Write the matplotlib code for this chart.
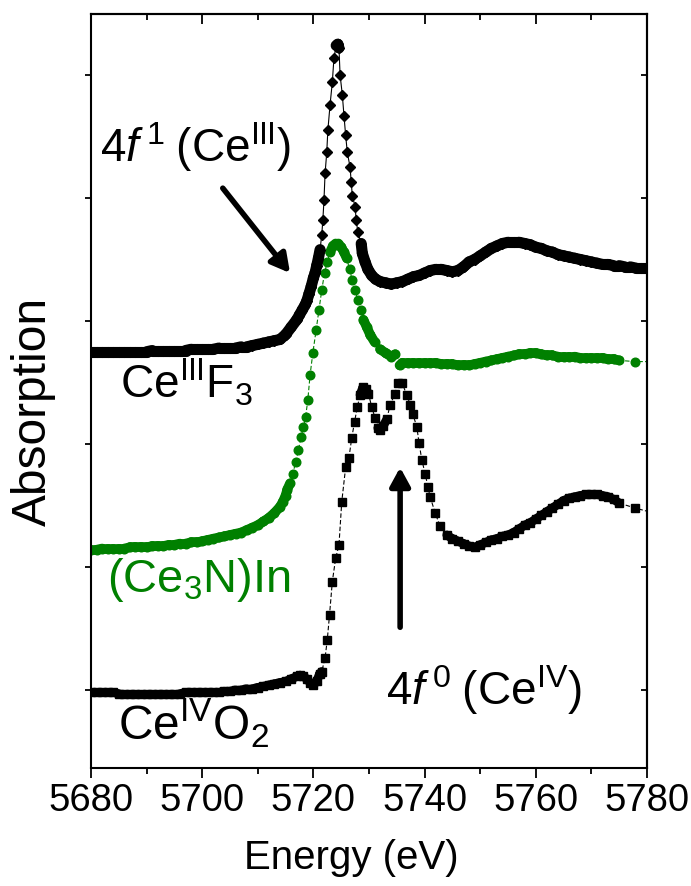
import matplotlib
matplotlib.use("Agg")
import numpy as np
import matplotlib.pyplot as plt
from matplotlib.collections import LineCollection
from matplotlib.ticker import MultipleLocator

plt.rcParams['font.family'] = ['Liberation Sans', 'DejaVu Sans']
plt.rcParams['mathtext.fontset'] = 'custom'
plt.rcParams['mathtext.rm'] = 'Liberation Sans'
plt.rcParams['mathtext.it'] = 'Liberation Sans:italic'
plt.rcParams['mathtext.bf'] = 'Liberation Sans:bold'

# ---- Ce L3-edge XANES spectra (offset vertically) ----
ecef3 = [5680, 5681, 5682, 5683, 5684, 5685, 5686, 5687, 5688, 5689,
         5690, 5691, 5692, 5693, 5694, 5695, 5696, 5697, 5698, 5699,
         5700, 5701, 5702, 5703, 5704, 5705, 5706, 5707, 5708, 5709,
         5710, 5711, 5712, 5713, 5714, 5715, 5716, 5717, 5717.5, 5718,
         5718.5, 5718.8, 5719.2, 5719.6, 5720.0, 5720.3, 5720.6, 5720.9, 5721.2, 5721.5,
         5721.7, 5721.9, 5722.1, 5722.4, 5722.6, 5723.0, 5723.4, 5723.7, 5724.1, 5724.4,
         5724.6, 5724.8, 5725.2, 5725.5, 5725.8, 5726.1, 5726.6, 5726.8, 5727.0, 5727.5,
         5727.7, 5728.0, 5728.6, 5728.8, 5729.3, 5729.8, 5730.5, 5731.2, 5732, 5733,
         5734, 5735, 5736, 5737, 5738, 5739, 5740, 5741, 5742, 5743,
         5744, 5745, 5746, 5747, 5748, 5749, 5750, 5751, 5752, 5753,
         5754, 5755, 5756, 5757, 5758, 5759, 5760, 5761, 5762, 5763,
         5764, 5765, 5766, 5767, 5768, 5769, 5770, 5771, 5772, 5773,
         5774, 5775, 5776, 5777, 5778, 5779, 5780]
mcef3 = [2.75, 2.75, 2.75, 2.75, 2.75, 2.75, 2.75, 2.75, 2.75, 2.75,
         2.75, 2.76, 2.76, 2.76, 2.76, 2.76, 2.76, 2.76, 2.77, 2.77,
         2.77, 2.77, 2.77, 2.78, 2.78, 2.78, 2.78, 2.79, 2.79, 2.80,
         2.81, 2.82, 2.83, 2.84, 2.85, 2.89, 2.95, 3.01, 3.05, 3.09,
         3.13, 3.16, 3.22, 3.28, 3.35, 3.39, 3.45, 3.51, 3.58, 3.70,
         3.82, 3.98, 4.20, 4.37, 4.55, 4.76, 4.94, 5.14, 5.24, 5.25,
         5.22, 5.00, 4.84, 4.67, 4.51, 4.37, 4.25, 4.13, 4.02, 3.93,
         3.82, 3.72, 3.63, 3.55, 3.48, 3.42, 3.37, 3.34, 3.32, 3.31,
         3.30, 3.31, 3.32, 3.34, 3.36, 3.37, 3.39, 3.41, 3.42, 3.42,
         3.41, 3.40, 3.41, 3.44, 3.48, 3.50, 3.53, 3.56, 3.59, 3.61,
         3.63, 3.64, 3.64, 3.64, 3.63, 3.62, 3.60, 3.59, 3.57, 3.56,
         3.54, 3.53, 3.52, 3.51, 3.50, 3.49, 3.48, 3.47, 3.46, 3.46,
         3.45, 3.45, 3.44, 3.44, 3.43, 3.43, 3.43]

ece3nin = [5680, 5681, 5682, 5683, 5684, 5685, 5686, 5687, 5688, 5689,
           5690, 5691, 5692, 5693, 5694, 5695, 5696, 5697, 5698, 5699,
           5700, 5701, 5702, 5703, 5704, 5705, 5706, 5707, 5708, 5709,
           5710, 5711, 5712, 5713, 5714, 5714.5, 5715.0, 5715.3, 5715.8, 5716.3,
           5716.8, 5717.3, 5717.8, 5718.2, 5718.6, 5719.0, 5719.4, 5719.9, 5720.5, 5721.0,
           5721.5, 5722.0, 5722.5, 5723.0, 5723.5, 5724.0, 5724.5, 5725.0, 5725.5, 5726.0,
           5726.5, 5727.0, 5727.5, 5728.0, 5728.5, 5729.0, 5729.6, 5730.2, 5731, 5732,
           5733, 5734, 5734.7, 5735.5, 5736, 5737, 5738, 5739, 5740, 5741,
           5742, 5743, 5744, 5745, 5746, 5747, 5748, 5749, 5750, 5751,
           5752, 5753, 5754, 5755, 5756, 5757, 5758, 5759, 5760, 5761,
           5762, 5763, 5764, 5765, 5766, 5767, 5768, 5769, 5770, 5771,
           5772, 5773, 5774, 5775, 5777.8, 5782]
mce3nin = [1.14, 1.14, 1.15, 1.15, 1.15, 1.15, 1.15, 1.16, 1.16, 1.16,
           1.16, 1.17, 1.17, 1.17, 1.18, 1.18, 1.19, 1.19, 1.20, 1.20,
           1.21, 1.22, 1.23, 1.24, 1.25, 1.26, 1.27, 1.28, 1.30, 1.32,
           1.34, 1.37, 1.40, 1.44, 1.49, 1.53, 1.58, 1.63, 1.68, 1.76,
           1.85, 1.95, 2.06, 2.14, 2.22, 2.36, 2.56, 2.74, 2.93, 3.09,
           3.25, 3.39, 3.48, 3.56, 3.61, 3.63, 3.63, 3.60, 3.56, 3.51,
           3.42, 3.33, 3.25, 3.17, 3.09, 3.01, 2.95, 2.89, 2.83, 2.77,
           2.74, 2.71, 2.73, 2.64, 2.66, 2.66, 2.66, 2.66, 2.66, 2.66,
           2.66, 2.65, 2.65, 2.65, 2.64, 2.64, 2.64, 2.65, 2.66, 2.67,
           2.68, 2.69, 2.70, 2.71, 2.72, 2.73, 2.73, 2.74, 2.74, 2.73,
           2.72, 2.72, 2.71, 2.71, 2.71, 2.71, 2.70, 2.70, 2.70, 2.70,
           2.70, 2.69, 2.69, 2.68, 2.67, 2.67]

eceo2 = [5680, 5681, 5682, 5683, 5684, 5685, 5686, 5687, 5688, 5689,
         5690, 5691, 5692, 5693, 5694, 5695, 5696, 5697, 5698, 5699,
         5700, 5701, 5702, 5703, 5704, 5705, 5706, 5707, 5708, 5709,
         5710, 5711, 5712, 5713, 5714, 5715, 5716, 5717, 5717.6, 5718.2,
         5718.8, 5719.4, 5720.0, 5720.6, 5721.1, 5721.5, 5722.1, 5722.5, 5722.9, 5723.4,
         5724.0, 5724.6, 5725.1, 5725.8, 5726.4, 5726.9, 5727.4, 5727.9, 5728.4, 5728.9,
         5729.4, 5729.9, 5730.5, 5731.1, 5731.6, 5732.0, 5732.6, 5733.2, 5733.8, 5734.7,
         5735.2, 5735.9, 5736.8, 5737.4, 5737.9, 5738.6, 5739.0, 5739.5, 5740.1, 5740.6,
         5741.0, 5741.9, 5742.8, 5744, 5745, 5746, 5747, 5748, 5749, 5750,
         5751, 5752, 5753, 5754, 5755, 5756, 5757, 5758, 5759, 5760,
         5761, 5762, 5763, 5764, 5765, 5766, 5767, 5768, 5769, 5770,
         5771, 5772, 5773, 5774, 5775, 5777.8, 5782]
mceo2 = [-0.02, -0.02, -0.02, -0.02, -0.02, -0.03, -0.03, -0.03, -0.03, -0.03,
         -0.03, -0.03, -0.03, -0.03, -0.03, -0.03, -0.03, -0.02, -0.02, -0.02,
         -0.02, -0.02, -0.02, -0.02, -0.01, -0.01, 0.00, 0.00, 0.01, 0.01,
         0.02, 0.03, 0.04, 0.05, 0.06, 0.07, 0.09, 0.11, 0.12, 0.11,
         0.09, 0.06, 0.04, 0.07, 0.13, 0.15, 0.26, 0.41, 0.61, 0.88,
         1.07, 1.18, 1.53, 1.81, 1.89, 2.05, 2.18, 2.30, 2.40, 2.46,
         2.45, 2.41, 2.30, 2.21, 2.13, 2.11, 2.15, 2.20, 2.32, 2.41,
         2.50, 2.50, 2.40, 2.32, 2.24, 2.14, 2.01, 1.87, 1.76, 1.65,
         1.57, 1.44, 1.33, 1.26, 1.23, 1.21, 1.19, 1.17, 1.16, 1.18,
         1.20, 1.22, 1.23, 1.25, 1.26, 1.28, 1.31, 1.34, 1.36, 1.39,
         1.42, 1.45, 1.48, 1.51, 1.54, 1.56, 1.57, 1.58, 1.59, 1.59,
         1.59, 1.58, 1.57, 1.55, 1.52, 1.48, 1.43]

xticks = [5680, 5700, 5720, 5740, 5760, 5780]
green = '#008000'

fig = plt.figure(figsize=(6.91, 8.86), dpi=100)
ax = fig.add_axes([0.1317, 0.1332, 0.9363 - 0.1317, 0.9842 - 0.1332])
ax.set_xlim(5680, 5780)
ax.set_ylim(-0.634, 5.496)


def spectrum(x, y, color, marker, ms, mew, band_pt, ls, z):
    """Markers joined by a thin line; closely spaced markers merge into a band."""
    pts = ax.transData.transform(np.column_stack([x, y]))
    seg_len = np.hypot(*np.diff(pts, axis=0).T)
    band_px = band_pt * fig.dpi / 72.0
    close = seg_len < 0.9 * band_px
    segs = [[(x[i], y[i]), (x[i + 1], y[i + 1])] for i in range(len(x) - 1) if close[i]]
    ax.add_collection(LineCollection(segs, colors=color, linewidths=band_pt,
                                     capstyle='round', joinstyle='round', zorder=z))
    ax.plot(x, y, color=color, lw=0.8, ls=ls, marker=marker, ms=ms,
            mec=color, mew=mew, zorder=z + 0.1)


spectrum(ecef3, mcef3, 'black', 'D', 5.4, 1.0, 8.0, '-', 3)
spectrum(ece3nin, mce3nin, green, 'o', 6.2, 1.0, 7.0, (0, (4, 2)), 2)
spectrum(eceo2, mceo2, 'black', 's', 5.2, 1.0, 6.4, (0, (4, 2)), 3)

ax.set_xticks(xticks)
ax.xaxis.set_minor_locator(MultipleLocator(10))
ax.set_yticks([0, 1, 2, 3, 4, 5])
ax.set_yticklabels([])

for s in ax.spines.values():
    s.set_linewidth(1.5)

ax.tick_params(axis='x', which='major', direction='out', length=7, width=1.3,
               labelsize=27.5, pad=4)
ax.tick_params(axis='x', which='minor', direction='out', length=4, width=1.3)
ax.tick_params(axis='y', which='major', direction='out', length=4.5, width=1.3)

# inward ticks on top and right
top = ax.secondary_xaxis('top')
top.set_xticks(xticks)
top.xaxis.set_minor_locator(MultipleLocator(10))
top.set_xticklabels([])
top.tick_params(which='major', direction='in', length=7, width=1.3)
top.tick_params(which='minor', direction='in', length=4, width=1.3)
top.spines['top'].set_linewidth(1.5)
right = ax.secondary_yaxis('right')
right.set_yticks([0, 1, 2, 3, 4, 5])
right.set_yticklabels([])
right.tick_params(direction='in', length=4.5, width=1.3)
right.spines['right'].set_linewidth(1.5)

ax.set_xlabel('Energy (eV)', fontsize=29, labelpad=14)
ax.xaxis.label.set_x(0.4676)
ax.set_ylabel('Absorption', fontsize=34.5, labelpad=17)
ax.yaxis.label.set_y(0.4735)

tfs = 33
ax.text(5681.6, 4.29, r'$4\mathit{f}^{\,1}\;(\mathrm{Ce}^{\mathrm{III}})$', fontsize=tfs,
        ha='left', va='baseline')
ax.text(5685.2, 2.37, r'$\mathrm{Ce}^{\mathrm{III}}\mathrm{F}_{3}$', fontsize=tfs,
        ha='left', va='baseline')
ax.text(5682.9, 0.80, r'$(\mathrm{Ce}_{3}\mathrm{N})\mathrm{In}$', fontsize=tfs + 0.8,
        color=green, ha='left', va='baseline')
ax.text(5684.9, -0.41, r'$\mathrm{Ce}^{\mathrm{IV}}\mathrm{O}_{2}$', fontsize=tfs + 1.5,
        ha='left', va='baseline')
ax.text(5733.1, -0.12, r'$4\mathit{f}^{\,0}\;(\mathrm{Ce}^{\mathrm{IV}})$', fontsize=tfs,
        ha='left', va='baseline')

arrow = dict(arrowstyle='-|>,head_length=0.55,head_width=0.3', lw=4, color='black',
             shrinkA=0, shrinkB=0, mutation_scale=20)
ax.annotate('', xy=(5715.8, 3.39), xytext=(5703.7, 4.08), arrowprops=arrow)
ax.annotate('', xy=(5735.6, 1.81), xytext=(5735.6, 0.51), arrowprops=arrow)

fig.savefig('out.png', dpi=100)
